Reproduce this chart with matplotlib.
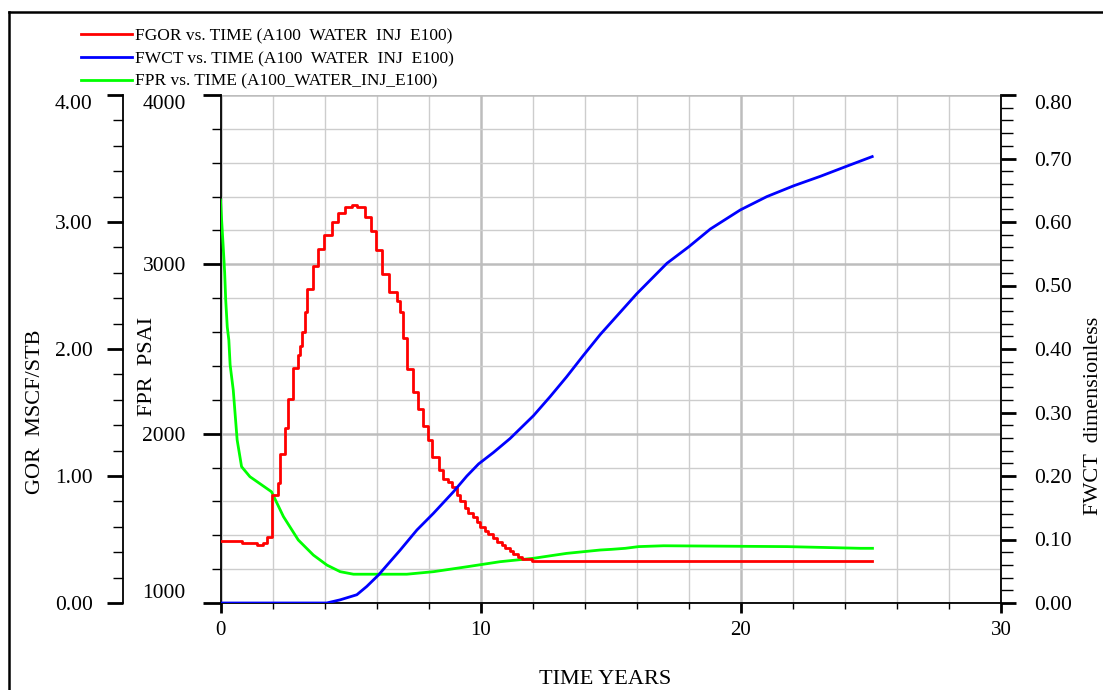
import matplotlib
matplotlib.use("Agg")
import matplotlib.pyplot as plt
from matplotlib.lines import Line2D
from matplotlib.ticker import MultipleLocator, FixedLocator

plt.rcParams['font.family'] = ['Liberation Serif', 'DejaVu Serif']

# ---------------- data ----------------
# FGOR (MSCF/STB), step series (value holds from time until next time)
gor_t = [0.0, 0.82, 1.39, 1.63, 1.78, 1.97, 2.21, 2.29, 2.48, 2.60, 2.79, 2.98,
         3.06, 3.12, 3.25, 3.32, 3.57, 3.76, 3.98, 4.28, 4.52, 4.79, 5.05, 5.24,
         5.56, 5.78, 5.97, 6.20, 6.49, 6.78, 6.90, 7.03, 7.18, 7.39, 7.61, 7.80,
         7.99, 8.12, 8.38, 8.57, 8.76, 8.89, 9.08, 9.21, 9.40, 9.53, 9.72, 9.85,
         9.98, 10.17, 10.30, 10.49, 10.62, 10.82, 10.94, 11.13, 11.26, 11.45,
         11.58, 11.97, 25.06]
gor_v = [0.49, 0.475, 0.457, 0.475, 0.52, 0.85, 0.945, 1.17, 1.38, 1.61, 1.85, 1.95,
         2.02, 2.13, 2.29, 2.47, 2.65, 2.79, 2.90, 3.00, 3.07, 3.12, 3.13, 3.12,
         3.04, 2.93, 2.78, 2.59, 2.45, 2.38, 2.29, 2.09, 1.84, 1.66, 1.53, 1.39,
         1.28, 1.15, 1.05, 0.98, 0.95, 0.91, 0.85, 0.80, 0.75, 0.71, 0.68, 0.64,
         0.60, 0.57, 0.54, 0.51, 0.48, 0.457, 0.43, 0.41, 0.386, 0.36,
         0.344, 0.33, 0.33]

# FWCT (dimensionless)
wct_t = [0.0, 4.08, 4.6, 5.24, 5.62, 6.07, 6.9, 7.55, 8.18, 8.95, 9.47, 9.92,
         10.49, 11.13, 12.03, 12.67, 13.3, 13.95, 14.6, 15.3, 16.0, 17.16, 18.0, 18.83,
         19.98, 21.0, 22.03, 23.06, 24.08, 25.05]
wct_v = [0.0, 0.0, 0.005, 0.013, 0.026, 0.044, 0.083, 0.115, 0.141, 0.175, 0.200, 0.219,
         0.237, 0.259, 0.295, 0.325, 0.356, 0.390, 0.423, 0.455, 0.487, 0.535, 0.561, 0.589,
         0.619, 0.640, 0.657, 0.672, 0.688, 0.703]

# FPR (PSIA)
fpr_t = [0.0, 0.05, 0.10, 0.16, 0.20, 0.26, 0.32, 0.37, 0.49, 0.57, 0.64, 0.81,
         1.13, 1.96, 2.42, 2.99, 3.57, 4.09, 4.6, 5.11, 7.16, 8.19, 9.47, 10.75,
         12.03, 13.3, 14.6, 15.04, 15.56, 16.07, 17.03, 21.78, 24.6, 25.06]
fpr_v = [3380, 3243, 3115, 2951, 2790, 2630, 2553, 2406, 2258, 2100, 1963, 1805,
         1746, 1657, 1510, 1372, 1283, 1224, 1185, 1170, 1170, 1185, 1214, 1244,
         1264, 1293, 1313, 1317, 1323, 1333, 1338, 1333, 1323, 1323]

labels = ["FGOR vs. TIME (A100  WATER  INJ  E100)",
          "FWCT vs. TIME (A100  WATER  INJ  E100)",
          "FPR vs. TIME (A100_WATER_INJ_E100)"]
colors = ["#ff0000", "#0000ff", "#00ff00"]

x_ticks = [0, 10, 20, 30]
fpr_ticks = [1000, 2000, 3000, 4000]
gor_ticks = [0.0, 1.0, 2.0, 3.0, 4.0]
wct_ticks = [0.0, 0.1, 0.2, 0.3, 0.4, 0.5, 0.6, 0.7, 0.8]

# ---------------- figure ----------------
W, H = 1103, 690
fig = plt.figure(figsize=(W / 100, H / 100), dpi=100)

L, R, T, B = 220.5, 1001.0, 95.0, 603.0
ax = fig.add_axes([L / W, 1 - B / H, (R - L) / W, (B - T) / H])
ax.set_xlim(0, 30)
ax.set_ylim(1000, 4000)

# grid
ax.xaxis.set_major_locator(FixedLocator(x_ticks))
ax.xaxis.set_minor_locator(MultipleLocator(2))
ax.yaxis.set_major_locator(FixedLocator(fpr_ticks))
ax.yaxis.set_minor_locator(MultipleLocator(200))
ax.grid(which='minor', color='#cdcdcd', lw=1.0)
ax.grid(which='major', color='#bdbdbd', lw=1.8)
ax.set_axisbelow(True)

for s in ['top', 'right']:
    ax.spines[s].set_visible(False)
ax.spines['left'].set_linewidth(1.3)
ax.spines['bottom'].set_linewidth(1.3)

ax.set_xticklabels([str(v) for v in x_ticks])
ax.set_yticklabels([str(v) for v in fpr_ticks])
ax.tick_params(axis='x', which='major', direction='out', length=7, width=2, pad=6, labelsize=15)
ax.tick_params(axis='x', which='minor', direction='out', length=4.5, width=1)
ax.tick_params(axis='y', which='major', direction='out', length=13, width=2, pad=12, labelsize=15.5)
ax.tick_params(axis='y', which='minor', direction='out', length=6.5, width=1)

LW = 2.0
ax.plot(fpr_t, fpr_v, color=colors[2], lw=LW, zorder=3)

# GOR axis (far left)
ax_g = ax.twinx()
ax_g.set_ylim(0, 4)
ax_g.yaxis.set_label_position('left')
ax_g.yaxis.tick_left()
for s in ['top', 'right', 'bottom']:
    ax_g.spines[s].set_visible(False)
ax_g.spines['left'].set_position(('outward', (L - 122.5) * 0.72))
ax_g.spines['left'].set_linewidth(1.3)
ax_g.yaxis.set_major_locator(FixedLocator(gor_ticks))
ax_g.yaxis.set_minor_locator(MultipleLocator(0.2))
ax_g.set_yticklabels([f"{v:.2f}" for v in gor_ticks])
ax_g.tick_params(axis='y', which='major', direction='out', length=11.5, width=2, pad=10, labelsize=15.5)
ax_g.tick_params(axis='y', which='minor', direction='out', length=7, width=1)
ax_g.step(gor_t, gor_v, where='post', color=colors[0], lw=LW, zorder=3)

# FWCT axis (right)
ax_w = ax.twinx()
ax_w.set_ylim(0, 0.8)
for s in ['top', 'left', 'bottom']:
    ax_w.spines[s].set_visible(False)
ax_w.spines['right'].set_linewidth(1.3)
ax_w.yaxis.set_major_locator(FixedLocator(wct_ticks))
ax_w.yaxis.set_minor_locator(MultipleLocator(0.02))
ax_w.set_yticklabels([f"{v:.2f}" for v in wct_ticks])
ax_w.tick_params(axis='y', which='major', direction='out', length=11, width=2, pad=13, labelsize=15.5)
ax_w.tick_params(axis='y', which='minor', direction='out', length=8.5, width=1)
ax_w.plot(wct_t, wct_v, color=colors[1], lw=LW, zorder=3)

# edge tick label alignment
fl = ax.get_yticklabels()
fl[0].set_va('bottom')
fl[-1].set_va('top')
ax_g.get_yticklabels()[-1].set_va('top')
ax_w.get_yticklabels()[-1].set_va('top')

# axis titles
fig.text(35 / W, 1 - 412 / H, "GOR  MSCF/STB", rotation=90, ha='center', va='center', fontsize=16)
fig.text(147 / W, 1 - 366 / H, "FPR  PSAI", rotation=90, ha='center', va='center', fontsize=16)
fig.text(1093 / W, 1 - 416 / H, "FWCT  dimensionless", rotation=90, ha='center', va='center', fontsize=16)
fig.text(605 / W, 1 - 679 / H, "TIME YEARS", ha='center', va='center', fontsize=16)

# legend
handles = [Line2D([], [], color=c, lw=LW) for c in colors]
fig.legend(handles, labels, loc='upper left', bbox_to_anchor=(81 / W, 1 - 28 / H),
           frameon=False, fontsize=12.5, handlelength=2.93, handletextpad=0.17,
           labelspacing=0.38, borderpad=0, borderaxespad=0)

# outer frame (top and left edges visible)
fig.add_artist(Line2D([8.5 / W, 1.0], [1 - 12 / H, 1 - 12 / H], transform=fig.transFigure,
                      color='black', lw=1.8))
fig.add_artist(Line2D([8.5 / W, 8.5 / W], [0.0, 1 - 12 / H], transform=fig.transFigure,
                      color='black', lw=1.8))

fig.savefig("out.png", dpi=100)
